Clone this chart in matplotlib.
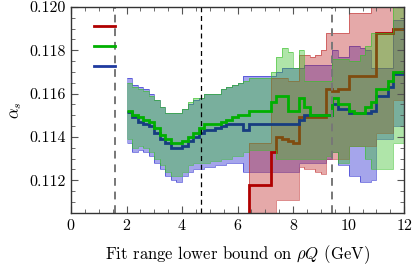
import numpy as np
import matplotlib
matplotlib.use("Agg")
import matplotlib.pyplot as plt
from matplotlib.ticker import MultipleLocator, FormatStrFormatter

plt.rcParams['font.family'] = 'serif'
plt.rcParams['font.serif'] = ['cmr10', 'DejaVu Serif']
plt.rcParams['mathtext.fontset'] = 'cm'
plt.rcParams['axes.formatter.use_mathtext'] = True

# step edges (lower bound of fit range in GeV)
edges = np.round(np.arange(2.0, 12.01, 0.2), 2)
red_edges = np.round(np.arange(6.2, 12.01, 0.2), 2)

green_mid = [0.1152, 0.1150, 0.1149, 0.1148, 0.1147, 0.1144, 0.1141, 0.1139, 0.1137, 0.1137,
             0.1138, 0.1140, 0.1142, 0.1144, 0.1146, 0.1146, 0.1146, 0.1147, 0.1148, 0.1149,
             0.1150, 0.1150, 0.1152, 0.1152, 0.1152, 0.1152, 0.1156, 0.1159, 0.1159, 0.1152,
             0.1152, 0.1158, 0.1154, 0.1150, 0.1150, 0.1150, 0.1150, 0.1158, 0.1155, 0.1155,
             0.1152, 0.1151, 0.1151, 0.1154, 0.1156, 0.1162, 0.1162, 0.1166, 0.1170, 0.1170]
green_hi = [0.1165, 0.1163, 0.1162, 0.1161, 0.1159, 0.1157, 0.1154, 0.1151, 0.1151, 0.1151,
            0.1153, 0.1156, 0.1158, 0.1158, 0.1160, 0.1160, 0.1160, 0.1162, 0.1163, 0.1164,
            0.1165, 0.1166, 0.1167, 0.1167, 0.1167, 0.1167, 0.1170, 0.1177, 0.1181, 0.1179,
            0.1172, 0.1180, 0.1166, 0.1166, 0.1166, 0.1166, 0.1166, 0.1176, 0.1176, 0.1176,
            0.1175, 0.1175, 0.1178, 0.1182, 0.1188, 0.1188, 0.1188, 0.1188, 0.1200, 0.1200]
green_lo = [0.1139, 0.1135, 0.1136, 0.1135, 0.1133, 0.1130, 0.1127, 0.1124, 0.1122, 0.1122,
            0.1124, 0.1127, 0.1128, 0.1128, 0.1128, 0.1129, 0.1129, 0.1130, 0.1130, 0.1131,
            0.1131, 0.1133, 0.1134, 0.1134, 0.1134, 0.1134, 0.1134, 0.1130, 0.1130, 0.1130,
            0.1130, 0.1130, 0.1130, 0.1130, 0.1130, 0.1130, 0.1131, 0.1133, 0.1128, 0.1128,
            0.1136, 0.1136, 0.1136, 0.1130, 0.1125, 0.1125, 0.1125, 0.1125, 0.1137, 0.1137]

blue_mid = [0.11515, 0.1149, 0.1147, 0.1146, 0.1145, 0.1142, 0.1139, 0.1137, 0.1135, 0.1135,
            0.1136, 0.1138, 0.1140, 0.1142, 0.1143, 0.1143, 0.1144, 0.1145, 0.1146, 0.1146,
            0.1146, 0.1143, 0.1146, 0.1146, 0.1146, 0.1146, 0.1146, 0.1146, 0.1146, 0.1146,
            0.1146, 0.1148, 0.1150, 0.1150, 0.1150, 0.1150, 0.1150, 0.1155, 0.1153, 0.1153,
            0.1151, 0.1151, 0.1151, 0.1151, 0.1152, 0.1159, 0.1159, 0.1163, 0.1169, 0.1169]
blue_hi = [0.1167, 0.1164, 0.1163, 0.1162, 0.1160, 0.1157, 0.1154, 0.1151, 0.1151, 0.1151,
           0.1153, 0.1155, 0.1157, 0.1158, 0.1160, 0.1160, 0.1160, 0.1162, 0.1163, 0.1164,
           0.1165, 0.1168, 0.1168, 0.1168, 0.1168, 0.1168, 0.1168, 0.1170, 0.1172, 0.1172,
           0.1172, 0.1172, 0.1173, 0.1173, 0.1173, 0.1173, 0.1173, 0.1180, 0.1177, 0.1177,
           0.1182, 0.1182, 0.1181, 0.1180, 0.1172, 0.1172, 0.1172, 0.1172, 0.1194, 0.1194]
blue_lo = [0.1137, 0.1133, 0.1134, 0.1133, 0.1131, 0.1128, 0.1125, 0.1122, 0.1120, 0.1119,
           0.1122, 0.1124, 0.1125, 0.1125, 0.1126, 0.1126, 0.1127, 0.1127, 0.1128, 0.1128,
           0.1128, 0.1124, 0.1124, 0.1124, 0.1124, 0.1124, 0.1124, 0.1124, 0.1124, 0.1124,
           0.1124, 0.1128, 0.1128, 0.1128, 0.1128, 0.1128, 0.1130, 0.1133, 0.1127, 0.1127,
           0.1122, 0.1122, 0.1119, 0.1119, 0.1120, 0.1139, 0.1139, 0.1139, 0.1145, 0.1145]

# first red step (6.2-6.4) lies below the plotted range
red_mid = [0.1095, 0.1118, 0.1118, 0.1118, 0.1118, 0.1133, 0.1140, 0.1139, 0.1138, 0.1137,
           0.1149, 0.1149, 0.1149, 0.1149, 0.1149, 0.1162, 0.1161, 0.1162, 0.1162, 0.1168,
           0.1168, 0.1168, 0.1168, 0.1168, 0.1188, 0.1188, 0.1188, 0.1190, 0.1190]
red_hi = [0.1095, 0.1137, 0.1137, 0.1137, 0.1137, 0.1167, 0.1167, 0.1167, 0.1166, 0.1166,
          0.1178, 0.1178, 0.1177, 0.1178, 0.1180, 0.1188, 0.1188, 0.1188, 0.1188, 0.1197,
          0.1197, 0.1197, 0.1197, 0.1200, 0.1203, 0.1203, 0.1203, 0.1203, 0.1203]
red_lo = [0.1095, 0.1100, 0.1100, 0.1100, 0.1100, 0.1100, 0.1111, 0.1111, 0.1111, 0.1111,
          0.1126, 0.1125, 0.1125, 0.1124, 0.1123, 0.1130, 0.1130, 0.1130, 0.1130, 0.1136,
          0.1136, 0.1136, 0.1136, 0.1136, 0.1142, 0.1142, 0.1142, 0.1157, 0.1157]

thresholds = [1.58, 4.70, 9.40]

RED_BAND, RED_LINE = '#c02a2a', '#b00000'
GREEN_BAND, GREEN_LINE = '#37c028', '#00b000'
BLUE_BAND, BLUE_LINE = '#1e1ecd', '#173d80'


def band(ax, e, lo, hi, col):
    ax.stairs(hi, e, baseline=lo, fill=True, facecolor=col, alpha=0.4, edgecolor='none')
    ax.stairs(hi, e, baseline=None, color=col, lw=0.7, alpha=0.55)
    ax.stairs(lo, e, baseline=None, color=col, lw=0.7, alpha=0.55)


fig = plt.figure(figsize=(4.15, 2.68), dpi=100)
ax = fig.add_axes([0.171, 0.206, 0.803, 0.768])

band(ax, edges, blue_lo, blue_hi, BLUE_BAND)
band(ax, red_edges, red_lo, red_hi, RED_BAND)
ax.stairs(red_mid, red_edges, baseline=None, color=RED_LINE, lw=2.0)
band(ax, edges, green_lo, green_hi, GREEN_BAND)
ax.stairs(blue_mid, edges, baseline=None, color=BLUE_LINE, lw=2.0)
ax.stairs(green_mid, edges, baseline=None, color=GREEN_LINE, lw=2.0)

styles = [('#777777', 1.4, (0, (4, 3))), ('black', 0.9, (0, (4, 3))), ('#777777', 1.4, (0, (4, 3)))]
for xv, (c, lw, ls) in zip(thresholds, styles):
    ax.axvline(xv, color=c, lw=lw, linestyle=ls)

# legend keys without text
for yk, c in zip([0.908, 0.810, 0.713], [RED_LINE, GREEN_LINE, '#1f3a9f']):
    ax.plot([0.069, 0.132], [yk, yk], color=c, lw=2.0, transform=ax.transAxes)

ax.set_xlim(0, 12)
ax.set_ylim(0.1105, 0.120)
ax.xaxis.set_major_locator(MultipleLocator(2))
ax.xaxis.set_minor_locator(MultipleLocator(0.5))
ax.yaxis.set_major_locator(MultipleLocator(0.002))
ax.yaxis.set_minor_locator(MultipleLocator(0.0005))
ax.yaxis.set_major_formatter(FormatStrFormatter('%.3f'))
ax.tick_params(which='both', direction='in', top=True, right=True, color='#555555',
               labelsize=11.5)
ax.tick_params(which='major', length=5, width=0.8)
ax.tick_params(which='minor', length=3, width=0.6)
for s in ax.spines.values():
    s.set_color('#333333')
    s.set_linewidth(1.0)

ax.set_xlabel(r'Fit range lower bound on $\rho Q$ (GeV)', fontsize=12, labelpad=8)
ax.set_ylabel(r'$\alpha_s$', fontsize=12)

fig.savefig('out.png', dpi=100)
